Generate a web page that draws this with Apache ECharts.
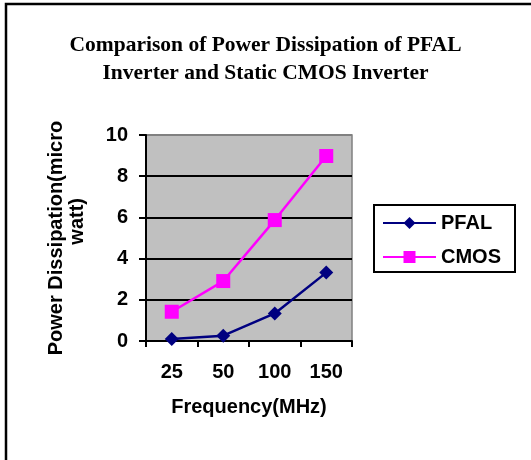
<!DOCTYPE html>
<html>
<head>
<meta charset="utf-8">
<script src="https://cdn.jsdelivr.net/npm/echarts@6/dist/echarts.min.js"></script>
<style>
    html, body { margin: 0; padding: 0; background: #fff; }
    #chart { width: 531px; height: 460px; }
</style>
</head>
<body>
<div id="chart"></div>
<script>
// frequency categories (MHz)
const frequencies = ["25", "50", "100", "150"];
// power dissipation (micro watt)
const pfalValues = [0.1, 0.26, 1.34, 3.32];
const cmosValues = [1.42, 2.91, 5.87, 8.98];
const yTicks = [0, 2, 4, 6, 8, 10];

const sans = "Liberation Sans";
const serif = "Liberation Serif";

const chart = echarts.init(document.getElementById("chart"));
chart.setOption({
    animation: false,
    backgroundColor: "#fff",
    graphic: [
        {
            // outer chart frame (only top and left edges are visible)
            type: "rect",
            shape: { x: 6, y: 4, width: 560, height: 500 },
            style: { fill: null, stroke: "#000", lineWidth: 2.5 },
            silent: true
        }
    ],
    title: {
        text: "Comparison of Power Dissipation of PFAL\nInverter and Static CMOS Inverter",
        left: "center",
        top: 26,
        padding: [5, 0, 5, 16],
        textStyle: {
            fontFamily: serif,
            fontWeight: "bold",
            fontSize: 21.5,
            lineHeight: 28,
            color: "#000"
        }
    },
    legend: {
        orient: "vertical",
        left: 374,
        top: 205,
        padding: [8, 14, 5, 8],
        itemGap: 14,
        itemWidth: 53,
        itemHeight: 15,
        borderColor: "#000",
        borderWidth: 2,
        textStyle: {
            fontFamily: sans,
            fontWeight: "bold",
            fontSize: 20,
            color: "#000"
        },
        data: ["PFAL", "CMOS"]
    },
    grid: {
        left: 146,
        top: 135,
        right: 179,
        bottom: 119,
        show: true,
        backgroundColor: "#C0C0C0",
        borderColor: "#808080",
        borderWidth: 1.5
    },
    xAxis: {
        type: "category",
        data: frequencies,
        boundaryGap: true,
        name: "Frequency(MHz)",
        nameLocation: "middle",
        nameGap: 56,
        nameTextStyle: {
            fontFamily: sans,
            fontWeight: "bold",
            fontSize: 20,
            color: "#000"
        },
        axisLine: { lineStyle: { color: "#000", width: 2 } },
        axisTick: { show: true, length: 6, alignWithLabel: false, lineStyle: { color: "#000", width: 2 } },
        axisLabel: {
            margin: 21,
            fontFamily: sans,
            fontWeight: "bold",
            fontSize: 20,
            color: "#000"
        },
        splitLine: { show: false }
    },
    yAxis: {
        type: "value",
        min: yTicks[0],
        max: yTicks[yTicks.length - 1],
        interval: 2,
        name: "Power Dissipation(micro\n\u00a0\u00a0\u00a0\u00a0\u00a0\u00a0watt)",
        nameLocation: "middle",
        nameRotate: 90,
        nameGap: 58,
        nameTextStyle: {
            fontFamily: sans,
            fontWeight: "bold",
            fontSize: 20,
            lineHeight: 21,
            color: "#000"
        },
        axisLine: { show: true, lineStyle: { color: "#000", width: 2 } },
        axisTick: { show: true, length: 7, lineStyle: { color: "#000", width: 2 } },
        axisLabel: {
            margin: 18,
            fontFamily: sans,
            fontWeight: "bold",
            fontSize: 20,
            color: "#000"
        },
        splitLine: {
            show: true,
            lineStyle: {
                color: ["#000", "#000", "#000", "#000", "#000", "#808080"],
                width: 2
            }
        }
    },
    series: [
        {
            name: "PFAL",
            type: "line",
            data: pfalValues,
            symbol: "diamond",
            symbolSize: 14,
            lineStyle: { color: "#000080", width: 2.5 },
            itemStyle: { color: "#000080" }
        },
        {
            name: "CMOS",
            type: "line",
            data: cmosValues,
            symbol: "rect",
            symbolSize: 14,
            lineStyle: { color: "#FF00FF", width: 2.5 },
            itemStyle: { color: "#FF00FF" }
        }
    ]
});
</script>
</body>
</html>
